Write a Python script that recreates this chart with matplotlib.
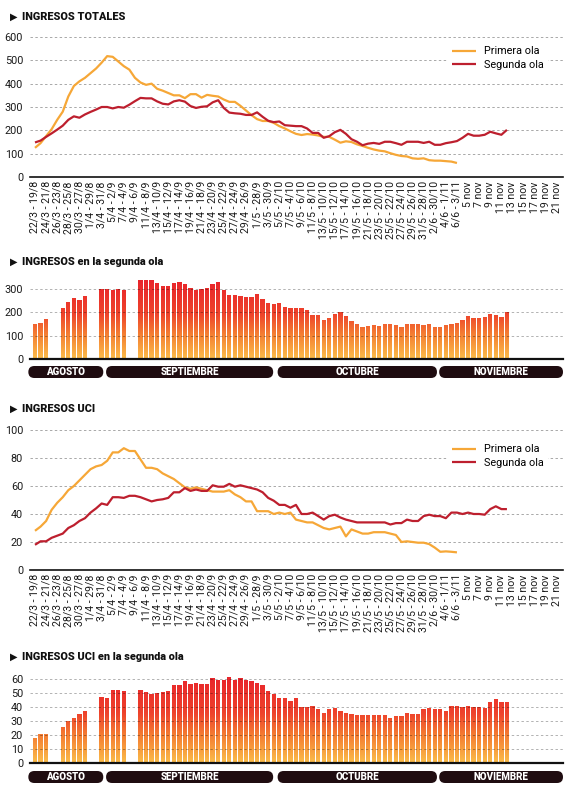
import numpy as np
import matplotlib
matplotlib.use("Agg")
import matplotlib.pyplot as plt
from matplotlib.colors import LinearSegmentedColormap
from matplotlib.patches import FancyBboxPatch, PathPatch
from matplotlib.path import Path
from matplotlib.transforms import IdentityTransform

# ---------------- DATA ----------------
etiquetas_x = [
    "22/3 - 19/8", "24/3 - 21/8", "26/3 - 23/8", "28/3 - 25/8", "30/3 - 27/8",
    "1/4 - 29/8", "3/4 - 31/8", "5/4 - 2/9", "7/4 - 4/9", "9/4 - 6/9",
    "11/4 - 8/9", "13/4 - 10/9", "15/4 - 12/9", "17/4 - 14/9", "19/4 - 16/9",
    "21/4 - 18/9", "23/4 - 20/9", "25/4 - 22/9", "27/4 - 24/9", "29/4 - 26/9",
    "1/5 - 28/9", "3/5 - 30/9", "5/5 - 2/10", "7/5 - 4/10", "9/5 - 6/10",
    "11/5 - 8/10", "13/5 - 10/10", "15/5 - 12/10", "17/5 - 14/10", "19/5 - 16/10",
    "21/5 - 18/10", "23/5 - 20/10", "25/5 - 22/10", "27/5 - 24/10", "29/5 - 26/10",
    "31/5 - 28/10", "2/6 - 30/10", "4/6 - 1/11", "6/6 - 3/11", "5 nov",
    "7 nov", "9 nov", "11 nov", "13 nov", "15 nov", "17 nov", "19 nov", "21 nov",
]

primera_total = [
    125, 145, 175, 205, 245, 280, 345, 390, 410, 425,
    445, 465, 490, 518, 515, 495, 475, 460, 425, 405,
    395, 400, 378, 370, 360, 350, 350, 338, 355, 355,
    340, 352, 348, 345, 332, 322, 322, 305, 285, 265,
    248, 240, 240, 232, 218, 208, 196, 185, 180, 184,
    182, 178, 172, 172, 160, 147, 153, 150, 140, 133,
    125, 118, 113, 110, 102, 95, 90, 88, 80, 78,
    80, 72, 70, 70, 68, 66, 60,
]

segunda_total = [
    148, 156, 172, 187, 203, 220, 245, 260, 254, 268,
    279, 289, 300, 300, 294, 300, 297, 310, 325, 339,
    337, 337, 324, 314, 311, 324, 329, 323, 304, 296,
    301, 303, 320, 329, 296, 276, 273, 271, 266, 266,
    277, 258, 241, 235, 238, 222, 220, 218, 218, 208,
    189, 189, 168, 175, 192, 202, 185, 162, 151, 136,
    143, 146, 142, 151, 151, 145, 138, 151, 151, 151,
    146, 151, 138, 138, 145, 149, 154, 168, 185, 177,
    177, 181, 194, 187, 181, 202,
]

primera_uci = [
    28, 31, 35, 43, 48, 52, 57, 60, 64, 68,
    72, 74, 75, 78, 84, 84, 87, 85, 85, 79,
    73, 73, 72, 69, 67, 65, 62, 59, 58, 59,
    58, 57, 56, 56, 56, 57, 54, 52, 49, 49,
    42, 42, 42, 40, 41, 40, 41, 36, 35, 34,
    34, 32, 30, 29, 30, 31, 24, 29, 27.5, 26,
    26, 27, 27, 27, 26, 25, 20, 20.5, 20, 19.5,
    19.5, 18.5, 16, 13, 13.3, 13, 12.6,
]

segunda_uci = [
    18, 20.5, 20.5, 23, 24.5, 26, 30, 32, 35, 37,
    41, 44, 47.5, 46.5, 52, 52, 51.5, 53, 53, 52,
    50.5, 49, 50, 50.5, 51.5, 55.5, 55.5, 58.5, 56.5, 57.5,
    56.5, 56.5, 60.5, 59.5, 59.5, 61.5, 59.5, 60.5, 59.5, 58.5,
    57.5, 55.5, 51.5, 49.5, 46.5, 46.5, 44.5, 46.5, 40, 40,
    41, 38.5, 36, 38.5, 39.5, 37.5, 36, 35, 34, 34,
    34, 34, 34, 34, 32.5, 33.5, 33.5, 36, 35, 35,
    38.5, 39.5, 38.5, 38.5, 37, 41, 41, 40, 41, 40,
    40, 39.5, 43.5, 45.5, 43.5, 43.5,
]

# days without a bar (weekends with no daily report)
dias_sin_barra = [3, 4, 10, 11, 17, 18]

meses = ["AGOSTO", "SEPTIEMBRE", "OCTUBRE", "NOVIEMBRE"]
series_nombres = ["Primera ola", "Segunda ola"]

ticks_total = [0, 100, 200, 300, 400, 500, 600]
ticks_barras_total = [0, 100, 200, 300]
ticks_uci = [0, 20, 40, 60, 80, 100]
ticks_barras_uci = [0, 10, 20, 30, 40, 50, 60]

titulos = ["INGRESOS TOTALES", "INGRESOS en la segunda ola",
           "INGRESOS UCI", "INGRESOS UCI en la segunda ola"]

# ---------------- STYLE / LAYOUT ----------------
W, H = 580, 794
FUENTE = ["Roboto", "DejaVu Sans"]
NARANJA = "#F6A737"
ROJO = "#BD1F2E"
OSCURO = "#1F0C10"
TXT = "#1a1a1a"
XLIM = (-0.9, 95.1)
pill_bordes = [(-1.2, 12.3), (12.8, 42.9), (43.7, 72.4), (72.8, 95.1)]

cmap_barras = LinearSegmentedColormap.from_list(
    "barras", [(0.0, "#FBBD4A"), (0.3, "#F47F33"), (0.55, "#EE432C"),
               (1.0, "#E8222B")])

fig = plt.figure(figsize=(W / 100, H / 100), dpi=100)
fig.patch.set_facecolor("white")


def eje(top_px, bottom_px, left_px=30, right_px=563):
    return fig.add_axes([left_px / W, 1 - bottom_px / H,
                         (right_px - left_px) / W, (bottom_px - top_px) / H])


def base(ax, ymax, ticks, axis_lw):
    ax.set_xlim(*XLIM)
    ax.set_ylim(0, ymax)
    for s in ["top", "right", "left"]:
        ax.spines[s].set_visible(False)
    ax.spines["bottom"].set_linewidth(axis_lw)
    ax.spines["bottom"].set_color("#111111")
    ax.spines["bottom"].set_zorder(5)
    ax.set_yticks(ticks)
    ax.set_yticklabels([str(t) for t in ticks], family=FUENTE, fontsize=7.8,
                       color=TXT)
    ax.tick_params(axis="y", length=0, pad=5)
    ax.set_facecolor("none")


def titulo(texto, baseline_px):
    fig.text(10 / W, 1 - baseline_px / H, "\u25B6", fontsize=7,
             color="#111111", ha="left", va="baseline", family="DejaVu Sans")
    fig.text(22 / W, 1 - baseline_px / H, texto, fontsize=7.8,
             fontweight="black", color="#111111", ha="left", va="baseline",
             family=FUENTE)


def etiquetas(ax):
    ax.set_xticks(np.arange(0, 2 * len(etiquetas_x), 2))
    ax.set_xticklabels(etiquetas_x, rotation=90, fontsize=7.6, family=FUENTE,
                       color=TXT)
    ax.tick_params(axis="x", length=0, pad=3)


def grid_lineas(ax, ticks):
    for t in ticks[1:]:
        ax.axhline(t, color="#a8a8a8", lw=0.7, ls=(0, (2.5, 2.5)), zorder=0.5)


def grid_barras(ax, ticks):
    for t in ticks[1:]:
        ax.axhline(t, color="black", alpha=0.3, lw=0.7, ls=(0, (2.5, 2.5)),
                   zorder=4)


def lineas(ax, a, b, leg_top_px):
    l1, = ax.plot(np.arange(len(a)), a, color=NARANJA, lw=1.6,
                  solid_joinstyle="round", solid_capstyle="butt", zorder=2)
    l2, = ax.plot(np.arange(len(b)), b, color=ROJO, lw=1.6,
                  solid_joinstyle="round", solid_capstyle="butt", zorder=3)
    leg = ax.legend([l1, l2], series_nombres, loc="upper left",
                    bbox_to_anchor=(448 / W, 1 - leg_top_px / H),
                    bbox_transform=fig.transFigure, frameon=True,
                    facecolor="white", edgecolor="none", framealpha=1,
                    fancybox=False, borderpad=0.4, handlelength=2.2,
                    handletextpad=0.7, labelspacing=0.3, borderaxespad=0,
                    prop={"family": FUENTE, "size": 7.8})
    leg.set_zorder(6)


def barras(ax, valores, ymax):
    x = [i for i in range(len(valores)) if i not in dias_sin_barra]
    h = [valores[i] for i in x]
    bars = ax.bar(x, h, width=0.78, color="none", edgecolor="none", zorder=2)
    paths = [b.get_path().transformed(b.get_patch_transform()) for b in bars]
    comp = Path.make_compound_path(*paths)
    clip = PathPatch(comp, transform=ax.transData, facecolor="none",
                     edgecolor="none")
    grad = np.linspace(0, 1, 256).reshape(-1, 1)
    im = ax.imshow(grad, extent=(XLIM[0], XLIM[1], 0, ymax), origin="lower",
                   aspect="auto", cmap=cmap_barras, zorder=2,
                   interpolation="bilinear")
    im.set_clip_path(clip)
    ax.set_xlim(*XLIM)
    ax.set_ylim(0, ymax)
    ax.set_xticks([])


def pastillas(ax, top_px, bot_px):
    hpx = bot_px - top_px
    for nombre, (x0, x1) in zip(meses, pill_bordes):
        px0 = ax.transData.transform((x0, 0))[0]
        px1 = ax.transData.transform((x1, 0))[0]
        p = FancyBboxPatch((px0, H - bot_px), px1 - px0, hpx,
                           boxstyle=f"round,pad=0,rounding_size={hpx / 2}",
                           transform=IdentityTransform(), facecolor=OSCURO,
                           edgecolor="none")
        fig.add_artist(p)
        fig.text((px0 + px1) / 2 / W, 1 - (top_px + bot_px) / 2 / H, nombre,
                 color="white", ha="center", va="center", fontsize=7,
                 fontweight="black", family=FUENTE)


# ---------- Chart 1: INGRESOS TOTALES ----------
ax1 = eje(37, 177)
base(ax1, 600, ticks_total, 1.2)
grid_lineas(ax1, ticks_total)
lineas(ax1, primera_total, segunda_total, 42)
etiquetas(ax1)
titulo(titulos[0], 19.5)

# ---------- Chart 2: INGRESOS en la segunda ola ----------
ax2 = eje(359 - 350 * 70 / 300, 359)
base(ax2, 350, ticks_barras_total, 1.6)
barras(ax2, segunda_total, 350)
grid_barras(ax2, ticks_barras_total)
pastillas(ax2, 366, 378)
titulo(titulos[1], 265)

# ---------- Chart 3: INGRESOS UCI ----------
ax3 = eje(430, 570)
base(ax3, 100, ticks_uci, 1.2)
grid_lineas(ax3, ticks_uci)
lineas(ax3, primera_uci, segunda_uci, 440)
etiquetas(ax3)
titulo(titulos[2], 412)

# ---------- Chart 4: INGRESOS UCI en la segunda ola ----------
ax4 = eje(763 - 64 * 84 / 60, 763)
base(ax4, 64, ticks_barras_uci, 1.6)
barras(ax4, segunda_uci, 64)
grid_barras(ax4, ticks_barras_uci)
pastillas(ax4, 771, 783)
titulo(titulos[3], 660)

fig.savefig("out.png", dpi=100, facecolor="white")
